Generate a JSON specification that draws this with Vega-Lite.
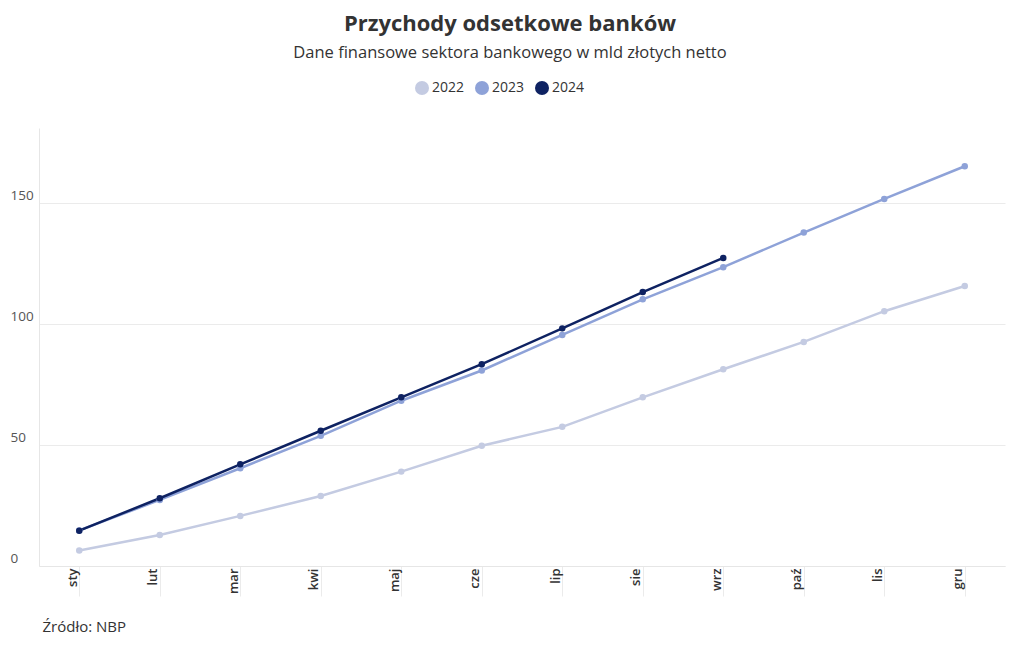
{
  "$schema": "https://vega.github.io/schema/vega-lite/v6.json",
  "width": 966,
  "height": 438,
  "autosize": "none",
  "padding": {"left": 39, "top": 128, "right": 15, "bottom": 84},
  "background": "white",
  "config": {
    "font": "Open Sans",
    "view": {"stroke": null}
  },
  "title": {
    "text": "Przychody odsetkowe banków",
    "subtitle": "Dane finansowe sektora bankowego w mld złotych netto",
    "anchor": "middle",
    "dx": -12,
    "fontSize": 22,
    "fontWeight": "bold",
    "color": "#333333",
    "subtitleFontSize": 16.5,
    "subtitleColor": "#333333",
    "subtitlePadding": 9,
    "offset": 19
  },
  "data": {
    "values": [
      {"m": "sty", "r": "2022", "v": 6.4},
      {"m": "lut", "r": "2022", "v": 12.8},
      {"m": "mar", "r": "2022", "v": 20.7},
      {"m": "kwi", "r": "2022", "v": 28.9},
      {"m": "maj", "r": "2022", "v": 39.0},
      {"m": "cze", "r": "2022", "v": 49.7},
      {"m": "lip", "r": "2022", "v": 57.5},
      {"m": "sie", "r": "2022", "v": 69.7},
      {"m": "wrz", "r": "2022", "v": 81.3},
      {"m": "paź", "r": "2022", "v": 92.6},
      {"m": "lis", "r": "2022", "v": 105.3},
      {"m": "gru", "r": "2022", "v": 115.7},
      {"m": "sty", "r": "2023", "v": 14.7},
      {"m": "lut", "r": "2023", "v": 27.3},
      {"m": "mar", "r": "2023", "v": 40.4},
      {"m": "kwi", "r": "2023", "v": 53.8},
      {"m": "maj", "r": "2023", "v": 68.3},
      {"m": "cze", "r": "2023", "v": 80.8},
      {"m": "lip", "r": "2023", "v": 95.5},
      {"m": "sie", "r": "2023", "v": 110.2},
      {"m": "wrz", "r": "2023", "v": 123.5},
      {"m": "paź", "r": "2023", "v": 137.8},
      {"m": "lis", "r": "2023", "v": 151.7},
      {"m": "gru", "r": "2023", "v": 165.2},
      {"m": "sty", "r": "2024", "v": 14.6},
      {"m": "lut", "r": "2024", "v": 28.0},
      {"m": "mar", "r": "2024", "v": 42.0},
      {"m": "kwi", "r": "2024", "v": 55.9},
      {"m": "maj", "r": "2024", "v": 69.7},
      {"m": "cze", "r": "2024", "v": 83.4},
      {"m": "lip", "r": "2024", "v": 98.2},
      {"m": "sie", "r": "2024", "v": 113.2},
      {"m": "wrz", "r": "2024", "v": 127.3}
    ]
  },
  "mark": {"type": "line", "strokeWidth": 2.5, "point": {"filled": true, "size": 42}},
  "encoding": {
    "x": {
      "field": "m",
      "type": "ordinal",
      "sort": ["sty", "lut", "mar", "kwi", "maj", "cze", "lip", "sie", "wrz", "paź", "lis", "gru"],
      "scale": {"type": "point", "padding": 0.5},
      "axis": {
        "title": "Źródło: NBP",
        "titleAnchor": "start",
        "titleAlign": "left",
        "titleX": 3,
        "titleY": 65,
        "titleBaseline": "alphabetic",
        "titleFontSize": 15,
        "titleFontWeight": "normal",
        "titleColor": "#333333",
        "labelAngle": -90,
        "labelAlign": "right",
        "labelBaseline": "middle",
        "labelOffset": -7,
        "labelPadding": -28,
        "labelFontSize": 13,
        "labelFontWeight": 600,
        "labelColor": "#333333",
        "tickSize": 30,
        "tickColor": "#ebebeb",
        "domainColor": "#e6e6e6",
        "grid": false
      }
    },
    "y": {
      "field": "v",
      "type": "quantitative",
      "scale": {"domain": [0, 181], "nice": false},
      "axis": {
        "title": null,
        "values": [0, 50, 100, 150],
        "ticks": false,
        "labelAlign": "left",
        "labelBaseline": "alphabetic",
        "labelPadding": 29,
        "labelOffset": -4,
        "labelFontSize": 13.5,
        "labelColor": "#555555",
        "gridColor": "#ebebeb",
        "domainColor": "#e6e6e6"
      }
    },
    "color": {
      "field": "r",
      "type": "nominal",
      "scale": {"domain": ["2022", "2023", "2024"], "range": ["#c4cbe2", "#8ea2d8", "#0e2262"]},
      "legend": {
        "title": null,
        "orient": "none",
        "direction": "horizontal",
        "legendX": 376,
        "legendY": -47,
        "symbolType": "circle",
        "symbolSize": 196,
        "symbolStrokeWidth": 0,
        "symbolOpacity": 1,
        "labelFontSize": 14,
        "labelColor": "#333333",
        "labelOffset": 3,
        "columnPadding": 10
      }
    }
  }
}
